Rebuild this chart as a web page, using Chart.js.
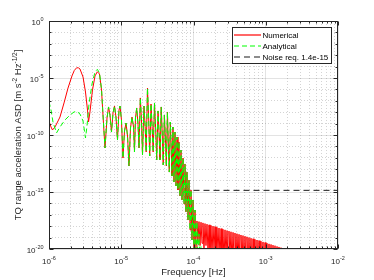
<!DOCTYPE html>
<html><head><meta charset="utf-8">
<script src="https://cdn.jsdelivr.net/npm/chart.js@4.4.1/dist/chart.umd.min.js"></script>
<style>html,body{margin:0;padding:0;background:#fff;}#wrap{width:374px;height:280px;position:relative;}</style>
</head><body><div id="wrap"><canvas id="c"></canvas></div>
<script>
// ---- data (log10 values) ----
const seriesLabels = ['Numerical', 'Analytical', 'Noise req. 1.4e-15'];

// Numerical, low-frequency part
const numLowLogFreq = [-6.000,-5.972,-5.952,-5.917,-5.875,-5.848,-5.792,-5.737,-5.682,-5.650,-5.617,-5.592,-5.571,-5.529,-5.495,-5.467,-5.453,-5.433,-5.398,-5.363,-5.331,-5.301,-5.273,-5.253];
const numLowLogAsd  = [-8.77,-9.30,-9.56,-9.30,-8.77,-8.42,-7.19,-5.88,-4.82,-4.34,-4.10,-4.11,-4.21,-4.91,-6.23,-7.81,-8.86,-7.98,-6.05,-4.82,-4.45,-4.65,-6.05,-8.25];

// Analytical, low-frequency part
const anaLowLogFreq = [-6.000,-5.972,-5.945,-5.896,-5.848,-5.779,-5.709,-5.654,-5.612,-5.571,-5.529,-5.495,-5.474,-5.446,-5.405,-5.363,-5.331,-5.301,-5.273,-5.253];
const anaLowLogAsd  = [-7.08,-7.81,-8.86,-9.82,-9.30,-8.68,-8.25,-7.98,-7.94,-8.16,-8.77,-10.26,-9.21,-7.28,-5.53,-4.47,-4.24,-4.56,-5.96,-8.16];

// Oscillating band where both curves coincide
const bandLogFreq = [-5.225,-5.197,-5.176,-5.156,-5.135,-5.114,-5.093,-5.073,-5.052,-5.031,-5.017,-4.997,-4.976,-4.955,-4.934,-4.913,-4.893,-4.872,-4.851,-4.830,-4.817,-4.803,-4.786,-4.768,-4.754,-4.736,-4.720,-4.706,-4.685,-4.667,-4.655,-4.637,-4.620,-4.606,-4.588,-4.572,-4.558,-4.540,-4.523,-4.509,-4.491,-4.475,-4.464,-4.447,-4.432,-4.419,-4.403,-4.388,-4.376,-4.361,-4.346,-4.335,-4.321,-4.307,-4.298,-4.284,-4.270,-4.256,-4.242,-4.228,-4.215,-4.201,-4.187,-4.173,-4.159,-4.145,-4.131,-4.118,-4.104,-4.090,-4.076,-4.062,-4.048,-4.035,-4.021,-4.007,-3.993,-3.979,-3.965];
const bandLogAsd  = [-11.14,-8.51,-7.54,-8.25,-9.74,-8.07,-7.46,-8.42,-10.44,-7.81,-7.46,-8.68,-12.02,-9.65,-8.95,-10.09,-12.72,-9.39,-8.42,-9.30,-11.49,-8.51,-7.63,-9.04,-11.14,-6.75,-8.68,-11.75,-7.46,-9.56,-11.49,-5.88,-8.68,-11.84,-7.28,-9.39,-11.49,-7.19,-9.56,-12.19,-7.89,-10.00,-12.19,-7.54,-10.00,-12.63,-8.25,-10.44,-12.72,-7.98,-11.32,-13.25,-8.86,-11.32,-13.60,-9.30,-14.12,-9.74,-14.47,-10.18,-14.82,-10.61,-15.35,-11.32,-15.70,-12.02,-16.05,-12.54,-16.75,-13.25,-17.46,-13.95,-18.33,-14.82,-19.21,-15.70,-20.09,-16.58,-20.79];

// Analytical end (drops below 1e-20)
const anaEndLogFreq = [-3.952,-3.938,-3.924,-3.910,-3.896,-3.882];
const anaEndLogAsd  = [-17.63,-21.14,-18.68,-21.40,-19.74,-21.84];

// Numerical high-frequency tail (dense oscillation, peaks and troughs)
const numTailLogFreq = [-3.952,-3.938,-3.924,-3.910,-3.896,-3.882,-3.869,-3.855,-3.841,-3.827,-3.813,-3.799,-3.785,-3.772,-3.758,-3.744,-3.730,-3.716,-3.702,-3.689,-3.675,-3.661,-3.647,-3.633,-3.619,-3.606,-3.592,-3.578,-3.564,-3.550,-3.536,-3.522,-3.509,-3.495,-3.481,-3.467,-3.453,-3.439,-3.426,-3.412,-3.398,-3.384,-3.370,-3.356,-3.343,-3.329,-3.315,-3.301,-3.287,-3.273,-3.260,-3.246,-3.232,-3.218,-3.204,-3.190,-3.176,-3.163,-3.149,-3.135,-3.121,-3.107,-3.093,-3.080,-3.066,-3.052,-3.038,-3.024,-3.010,-2.997,-2.983,-2.969,-2.955,-2.941,-2.927,-2.913,-2.900,-2.886,-2.872,-2.858,-2.844,-2.830,-2.817,-2.803,-2.789,-2.775,-2.761,-2.747,-2.734,-2.720];
const numTailLogAsd  = [-17.54,-19.4,-17.60,-19.7,-17.65,-19.5,-17.71,-20.1,-17.77,-19.7,-17.82,-20.3,-17.88,-19.9,-17.93,-20.5,-17.99,-20.0,-18.04,-20.6,-18.10,-20.2,-18.16,-20.8,-18.21,-20.3,-18.27,-21.0,-18.32,-20.5,-18.38,-21.0,-18.43,-20.6,-18.49,-21.1,-18.54,-20.8,-18.60,-21.2,-18.66,-20.8,-18.71,-21.3,-18.77,-21.0,-18.82,-21.4,-18.88,-21.0,-18.93,-21.5,-18.99,-21.2,-19.05,-21.6,-19.10,-21.3,-19.16,-21.7,-19.21,-21.4,-19.27,-21.8,-19.32,-21.5,-19.38,-21.9,-19.43,-21.6,-19.49,-22.0,-19.55,-21.7,-19.60,-22.0,-19.66,-21.8,-19.71,-22.1,-19.77,-21.9,-19.82,-22.2,-19.88,-22.0,-19.93,-22.2,-19.99,-22.1];

// Noise requirement
const noiseFreq = [1e-4, 1e-2];
const noiseAsd  = [1.4e-15, 1.4e-15];

// Axis decades
const xDecades = [-6, -5, -4, -3, -2];
const yDecades = [-20, -19, -18, -17, -16, -15, -14, -13, -12, -11, -10, -9, -8, -7, -6, -5, -4, -3, -2, -1, 0];
const yLabelDecades = [-20, -15, -10, -5, 0];

// ---- build ----
const toPts = (lf, la) => lf.map((v, i) => ({x: Math.pow(10, v), y: Math.pow(10, la[i])}));
const numPts = toPts(numLowLogFreq.concat(bandLogFreq, numTailLogFreq), numLowLogAsd.concat(bandLogAsd, numTailLogAsd));
const anaPts = toPts(anaLowLogFreq.concat(bandLogFreq, anaEndLogFreq), anaLowLogAsd.concat(bandLogAsd, anaEndLogAsd));
const noisePts = noiseFreq.map((f, i) => ({x: f, y: noiseAsd[i]}));

const FONT = '"Liberation Sans", Arial, Helvetica, sans-serif';
const TXT = '#262626';

function drawPow(ctx, exp, x, y, align) {
  const es = String(exp);
  ctx.font = '8px ' + FONT;
  const wb = ctx.measureText('10').width;
  ctx.font = '5.5px ' + FONT;
  const we = ctx.measureText(es).width;
  const tw = wb + we;
  const x0 = align === 'center' ? x - tw / 2 : x - tw;
  ctx.textAlign = 'left';
  ctx.textBaseline = 'alphabetic';
  ctx.fillStyle = TXT;
  ctx.font = '8px ' + FONT;
  ctx.fillText('10', x0, y);
  ctx.font = '5.5px ' + FONT;
  ctx.fillText(es, x0 + wb, y - 4);
}

function drawRich(ctx, parts, cx, baseY, size, supSize) {
  let total = 0;
  parts.forEach(p => { ctx.font = (p.sup ? supSize : size) + 'px ' + FONT; p.w = ctx.measureText(p.t).width; total += p.w; });
  let x = cx - total / 2;
  ctx.textAlign = 'left'; ctx.textBaseline = 'alphabetic'; ctx.fillStyle = TXT;
  parts.forEach(p => {
    ctx.font = (p.sup ? supSize : size) + 'px ' + FONT;
    ctx.fillText(p.t, x, p.sup ? baseY - size * 0.42 : baseY);
    x += p.w;
  });
}

const framePlugin = {
  id: 'frame',
  afterDatasetsDraw(chart) {
    const {ctx, chartArea: a, scales: {x, y}} = chart;
    const L = Math.round(a.left) + 0.5, R = Math.round(a.right) - 0.5, T = Math.round(a.top) + 0.5, B = Math.round(a.bottom) - 0.5;
    ctx.save();
    ctx.strokeStyle = TXT;
    ctx.lineWidth = 1;
    ctx.beginPath();
    x.ticks.forEach(t => {
      const p = Math.round(x.getPixelForValue(t.value)) + 0.5;
      const len = t.major ? 4 : 2;
      ctx.moveTo(p, B); ctx.lineTo(p, B - len);
      ctx.moveTo(p, T); ctx.lineTo(p, T + len);
    });
    y.ticks.forEach(t => {
      const p = Math.round(y.getPixelForValue(t.value)) + 0.5;
      const len = t.major ? 4 : 2;
      ctx.moveTo(L, p); ctx.lineTo(L + len, p);
      ctx.moveTo(R, p); ctx.lineTo(R - len, p);
    });
    ctx.stroke();
    ctx.strokeRect(L, T, R - L, B - T);
    ctx.restore();
  },
  afterDraw(chart) {
    const {ctx, chartArea: a, scales: {x, y}} = chart;
    ctx.save();
    // tick labels
    xDecades.forEach(e => drawPow(ctx, e, x.getPixelForValue(Math.pow(10, e)), 264, 'center'));
    yLabelDecades.forEach(e => drawPow(ctx, e, 43.5, y.getPixelForValue(Math.pow(10, e)) + 4, 'right'));
    // x title
    drawRich(ctx, [{t: 'Frequency [Hz]'}], (a.left + a.right) / 2, 275, 9.5, 6.5);
    // y title (rotated)
    ctx.save();
    ctx.translate(21, (a.top + a.bottom) / 2);
    ctx.rotate(-Math.PI / 2);
    drawRich(ctx, [
      {t: 'TQ range acceleration ASD [m s'}, {t: '-2', sup: true},
      {t: ' Hz'}, {t: '-1/2', sup: true}, {t: ']'}
    ], 0, 0, 9.5, 6.5);
    ctx.restore();
    // legend
    const bx = 232, by = 27, bw = 99, bh = 36;
    ctx.fillStyle = '#fff';
    ctx.fillRect(bx, by, bw, bh);
    ctx.strokeStyle = TXT; ctx.lineWidth = 1;
    ctx.strokeRect(bx + 0.5, by + 0.5, bw, bh);
    [0, 1, 2].forEach((di, r) => {
      const ds = chart.data.datasets[di];
      const yy = by + 8 + r * 11;
      ctx.save();
      ctx.strokeStyle = ds.borderColor; ctx.lineWidth = 1.2;
      ctx.setLineDash(ds.borderDash || []);
      ctx.beginPath(); ctx.moveTo(bx + 2, yy); ctx.lineTo(bx + 29, yy); ctx.stroke();
      ctx.restore();
      ctx.fillStyle = '#000';
      ctx.font = '8px ' + FONT;
      ctx.textAlign = 'left'; ctx.textBaseline = 'middle';
      ctx.fillText(ds.label, bx + 30.5, yy + 0.5);
    });
    ctx.restore();
  }
};

const gridColor = c => (c.tick && c.tick.major) ? 'rgba(0,0,0,0.11)' : 'rgba(0,0,0,0.17)';
const gridDash = c => (c.tick && !c.tick.major) ? [1, 2] : [];

new Chart(document.getElementById('c'), {
  type: 'line',
  data: {
    datasets: [
      {label: seriesLabels[0], data: numPts, borderColor: '#ff0000', borderWidth: 1, pointRadius: 0, tension: 0, order: 2, clip: 0},
      {label: seriesLabels[1], data: anaPts, borderColor: '#00ff00', borderWidth: 1, borderDash: [5, 3], pointRadius: 0, tension: 0, order: 1, clip: 0},
      {label: seriesLabels[2], data: noisePts, borderColor: '#1a1a1a', borderWidth: 1, borderDash: [6, 4], pointRadius: 0, tension: 0, order: 0, clip: 0}
    ]
  },
  options: {
    responsive: true,
    maintainAspectRatio: false,
    animation: false,
    events: [],
    layout: {padding: {left: 0, right: 36, top: 21, bottom: 0}},
    plugins: {legend: {display: false}, tooltip: {enabled: false}},
    scales: {
      x: {
        type: 'logarithmic', min: 1e-6, max: 1e-2,
        afterBuildTicks(s) {
          const t = [];
          xDecades.forEach(e => {
            for (let k = 1; k <= 9; k++) {
              if (e === -2 && k > 1) break;
              t.push({value: k * Math.pow(10, e), major: k === 1});
            }
          });
          s.ticks = t;
        },
        afterFit(s) { s.height = 31; },
        ticks: {display: false},
        grid: {color: gridColor, lineWidth: 1, drawTicks: false},
        border: {display: false, dash: gridDash}
      },
      y: {
        type: 'logarithmic', min: 1e-20, max: 1,
        afterBuildTicks(s) {
          s.ticks = yDecades.map(e => ({value: Math.pow(10, e), major: e % 5 === 0}));
        },
        afterFit(s) { s.width = 49; },
        ticks: {display: false},
        grid: {color: gridColor, lineWidth: 1, drawTicks: false},
        border: {display: false, dash: gridDash}
      }
    }
  },
  plugins: [framePlugin]
});
</script>
</body></html>
